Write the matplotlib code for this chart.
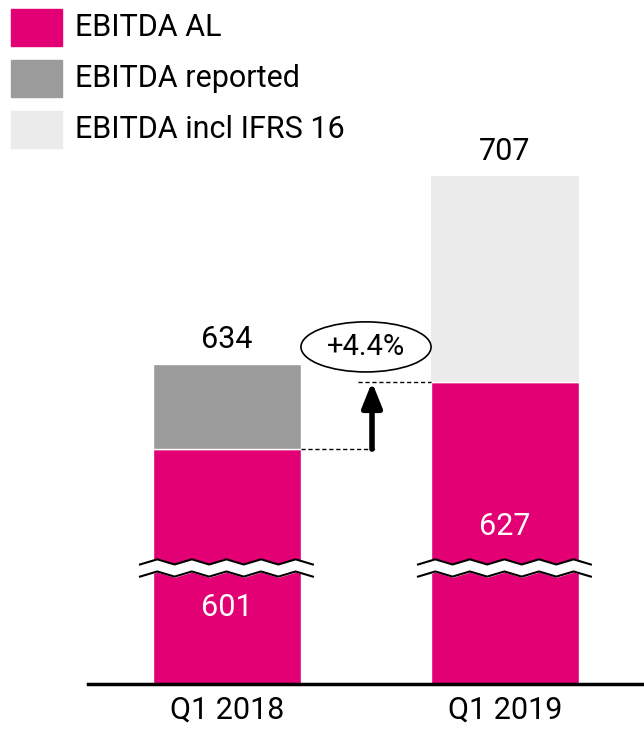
import numpy as np
import matplotlib.pyplot as plt
from matplotlib.patches import Ellipse, Rectangle

plt.rcParams['font.family'] = ['Roboto', 'DejaVu Sans']

# data
quarters = ['Q1 2018', 'Q1 2019']
ebitda_al = [601, 627]
ebitda_reported = [634, None]
ebitda_ifrs16 = [None, 707]
growth_label = '+4.4%'

legend_labels = ['EBITDA AL', 'EBITDA reported', 'EBITDA incl IFRS 16']
magenta = '#E20074'
grey = '#9B9B9B'
light = '#EBEBEB'

base = 510
fig = plt.figure(figsize=(6.44, 7.32), dpi=100)
ax = fig.add_axes([88 / 644, 1 - 684 / 732, 1 - 88 / 644, 684 / 732])

x = np.arange(len(quarters))
w = 0.532

al_h = [v - base for v in ebitda_al]
ax.bar(x, al_h, w, bottom=base, color=magenta, edgecolor='white', lw=1, zorder=2)
rep = [r - a if r else 0 for r, a in zip(ebitda_reported, ebitda_al)]
ax.bar(x, rep, w, bottom=ebitda_al, color=grey, edgecolor='white', lw=1, zorder=2)
ifrs = [r - a if r else 0 for r, a in zip(ebitda_ifrs16, ebitda_al)]
ax.bar(x, ifrs, w, bottom=ebitda_al, color=light, edgecolor='none', lw=0, zorder=1)

# totals above bars
tops = [634, 707]
for xi, t in zip(x, tops):
    ax.annotate(str(t), (xi, t), xytext=(0, 7), textcoords='offset points',
                ha='center', va='bottom', fontsize=22)

# values inside magenta
inside_y = [539.5, 571]
for xi, v, yy in zip(x, ebitda_al, inside_y):
    ax.text(xi, yy, str(v), ha='center', va='center', color='white', fontsize=22, zorder=5)

# axis break zigzags
def zigzag(x0, x1, yc):
    n = 10
    xs = np.linspace(x0, x1, n + 1)
    ys = yc + np.where(np.arange(n + 1) % 2 == 0, -1.0, 1.0)
    return xs, ys

for xi in x:
    x0, x1 = xi - 0.313, xi + 0.309
    xs, yu = zigzag(x0, x1, 557.3)
    _, yl = zigzag(x0, x1, 552.6)
    ax.fill_between(xs, yl, yu, color='white', zorder=3)
    ax.plot(xs, yu, color='black', lw=1.5, zorder=4)
    ax.plot(xs, yl, color='black', lw=1.5, zorder=4)

# growth arrow with dashed guides
ax.plot([x[0] + w / 2, 0.532], [ebitda_al[0]] * 2, 'k--', lw=1, dashes=(3, 2))
ax.plot([0.471, x[1] - w / 2], [ebitda_al[1]] * 2, 'k--', lw=1, dashes=(3, 2))
ax.annotate('', xy=(0.5216, ebitda_al[1]), xytext=(0.5216, ebitda_al[0]),
            arrowprops=dict(arrowstyle='-|>,head_width=0.3,head_length=0.75',
                            lw=4, color='black', shrinkA=0, shrinkB=0, mutation_scale=20))
ax.add_patch(Ellipse((0.5, 640.6), 0.468, 19.4, fill=False, ec='black', lw=1.2))
ax.text(0.5, 640.6, growth_label, ha='center', va='center', fontsize=21)

ax.set_xlim(-0.5, 1.5)
ax.set_ylim(base, 775)
ax.set_xticks(x)
ax.set_xticklabels(quarters, fontsize=22)
ax.tick_params(axis='x', length=0, pad=8)
ax.set_yticks([])
for s in ['top', 'right', 'left']:
    ax.spines[s].set_visible(False)
ax.spines['bottom'].set_linewidth(2.5)

# legend
for i, (lab, col) in enumerate(zip(legend_labels, [magenta, grey, light])):
    top = 9 + i * 51
    fig.patches.append(Rectangle((11 / 644, 1 - (top + 37) / 732), 51 / 644, 37 / 732,
                                 transform=fig.transFigure, color=col))
    fig.text(75 / 644, 1 - (top + 18.5) / 732, lab, va='center', ha='left', fontsize=22)

plt.savefig('out.png', dpi=100)
